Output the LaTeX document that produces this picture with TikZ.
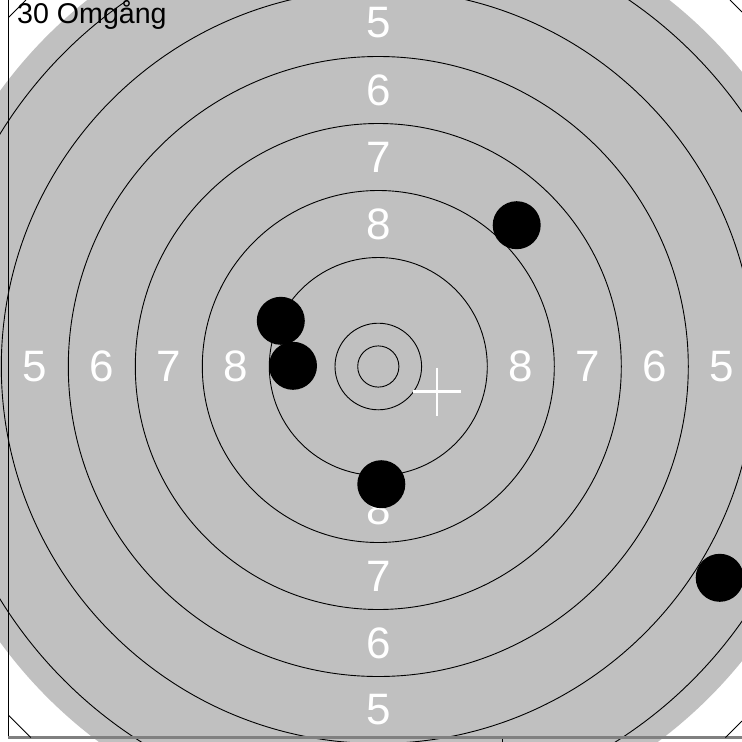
\documentclass[tikz,border=0pt]{standalone}
\usepackage{fontspec}
\setmainfont{Liberation Sans}
\usetikzlibrary{calc}
\definecolor{disk}{HTML}{C0C0C0}
\definecolor{rule}{HTML}{808080}
\begin{document}
\begin{tikzpicture}[x=1pt,y=-1pt,
  ringline/.style={draw=black,line width=0.9pt},
  score/.style={text=white,inner sep=0pt,font=\fontsize{44}{44}\selectfont},
  shot/.style={fill=black},
  frameline/.style={draw=black,line width=0.9pt},
  cross/.style={draw=white,line width=2.2pt}]
\useasboundingbox (0,0) rectangle (742,742);
\clip (0,0) rectangle (742,742);
\fill[white] (0,0) rectangle (742,742);
\coordinate (c) at (378.3,366.5);
% gray disk
\fill[disk] (c) circle[radius=468pt];
% rings
\foreach \r in {20.6,43.3,109,176,243,310,377,444}
  \draw[ringline] (c) circle[radius=\r pt];
% score labels
\foreach \v/\d in {8/142.5,7/209.5,6/276.5,5/343.5}{
  \node[score] at ($(c)+(-\d,0)$) {\v};
  \node[score] at ($(c)+(\d,0)$) {\v};
  \node[score] at ($(c)+(0,-\d)$) {\v};
  \node[score] at ($(c)+(0,\d)$) {\v};
}
% crosshair
\coordinate (x0) at (437,391.5);
\draw[cross] ($(x0)+(-24,0)$) -- ($(x0)+(24,0)$);
\draw[cross] ($(x0)+(0,-24)$) -- ($(x0)+(0,24)$);
% shots
\fill[shot] (280.8,320.8) circle[radius=24pt];
\fill[shot] (293,365.8) circle[radius=24pt];
\fill[shot] (381.3,484.2) circle[radius=24pt];
\fill[shot] (516.7,225.2) circle[radius=24pt];
\fill[shot] (719.7,577.8) circle[radius=24pt];
% frame
\draw[frameline] (8.5,0) -- (8.5,737.5);
\draw[rule,line width=2.5pt] (8,737.5) -- (742,737.5);
\draw[frameline] (502,738.5) -- (502,742);
\draw[frameline] (8.5,17.5) -- (26,0);
\draw[frameline] (730,0) -- (742,12);
\draw[frameline] (8.5,715.2) -- (30.8,737.5);
\draw[frameline] (725.5,737.5) -- (742,721);
% title
\node[anchor=base west,inner sep=0pt,font=\fontsize{28.6}{28.6}\selectfont] (t) at (17,23) {30 Omgång};
\end{tikzpicture}
\end{document}
